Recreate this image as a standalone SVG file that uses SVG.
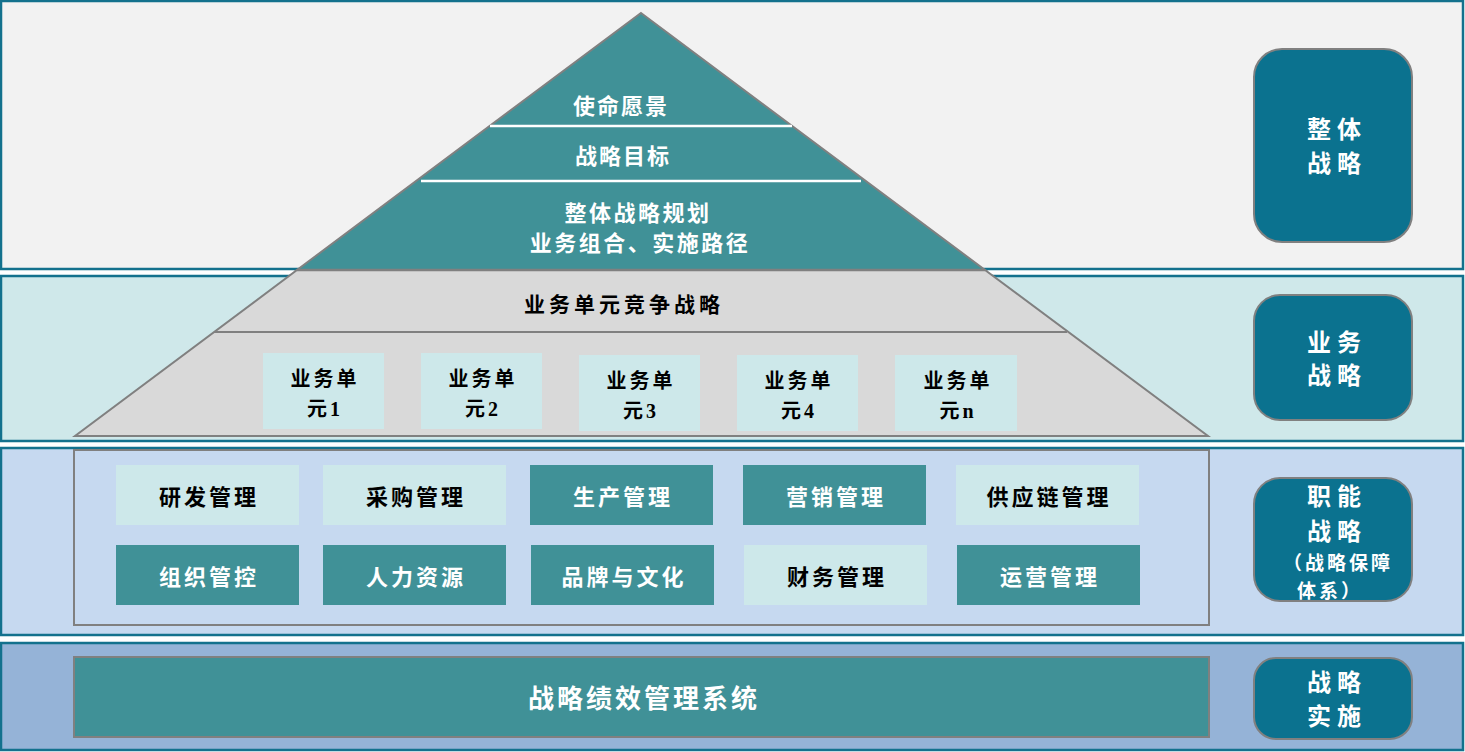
<svg xmlns="http://www.w3.org/2000/svg" width="1465" height="752" viewBox="0 0 1465 752">
<style>
.band{stroke:#13718d;stroke-width:2.5}
.t{font-family:"Liberation Serif","Noto Sans CJK SC",serif;font-weight:bold;text-anchor:middle;dominant-baseline:central}
.w{fill:#ffffff}
.k{fill:#000000}
.lt{fill:#cde8ea}
.tl{fill:#409197}
.rb{fill:#0b728f;stroke:#808080;stroke-width:2}
</style>
<g id="bands">
<rect class="band" x="1" y="1" width="1462" height="268" fill="#f2f2f2"/>
<rect class="band" x="1" y="276" width="1462" height="165" fill="#cfe8ea"/>
<rect class="band" x="1" y="448" width="1462" height="187" fill="#c6d9f0"/>
<rect class="band" x="1" y="643" width="1462" height="107" fill="#95b3d7"/>
</g>
<g id="pyramid">
<polygon points="297,270 985,270 1208,436 75,436" fill="#d9d9d9" stroke="#808080" stroke-width="2"/>
<polygon points="641,13 985,270 297,270" fill="#409197" stroke="#808080" stroke-width="2"/>
<line x1="297" y1="270" x2="985" y2="270" stroke="#808080" stroke-width="2.5"/>
<line x1="490" y1="126" x2="792" y2="126" stroke="#ffffff" stroke-width="2.5"/>
<line x1="421" y1="181" x2="861" y2="181" stroke="#ffffff" stroke-width="2.5"/>
<line x1="214" y1="332" x2="1067" y2="332" stroke="#808080" stroke-width="2"/>
</g>
<g id="pyr-vision"><text class="t w" x="621" y="106" font-size="22" letter-spacing="2">使命愿景</text></g>
<g id="pyr-goal"><text class="t w" x="623" y="156" font-size="22" letter-spacing="2">战略目标</text></g>
<g id="pyr-plan"><text class="t w" font-size="22" letter-spacing="2.5"><tspan x="638" y="213">整体战略规划</tspan><tspan x="640" y="243">业务组合、实施路径</tspan></text></g>
<g id="pyr-bu"><text class="t k" x="624" y="305" font-size="21" letter-spacing="4">业务单元竞争战略</text></g>
<g id="bu1"><rect class="lt" x="263" y="353" width="121" height="76"/><text class="t k" font-size="20" letter-spacing="3"><tspan x="325" y="379">业务单</tspan><tspan x="325" y="409">元1</tspan></text></g>
<g id="bu2"><rect class="lt" x="421" y="353" width="121" height="76"/><text class="t k" font-size="20" letter-spacing="3"><tspan x="483" y="379">业务单</tspan><tspan x="483" y="409">元2</tspan></text></g>
<g id="bu3"><rect class="lt" x="579" y="355" width="121" height="76"/><text class="t k" font-size="20" letter-spacing="3"><tspan x="641" y="381">业务单</tspan><tspan x="641" y="411">元3</tspan></text></g>
<g id="bu4"><rect class="lt" x="737" y="355" width="121" height="76"/><text class="t k" font-size="20" letter-spacing="3"><tspan x="799" y="381">业务单</tspan><tspan x="799" y="411">元4</tspan></text></g>
<g id="bun"><rect class="lt" x="895" y="355" width="122" height="76"/><text class="t k" font-size="20" letter-spacing="3"><tspan x="958" y="381">业务单</tspan><tspan x="958" y="411">元n</tspan></text></g>
<g id="func-frame"><rect x="74" y="450" width="1135" height="175" fill="#c6d9f0" stroke="#808080" stroke-width="2"/></g>
<g id="f1"><rect class="lt" x="116" y="465" width="183" height="60"/><text class="t k" x="209" y="497" font-size="22" letter-spacing="3">研发管理</text></g>
<g id="f2"><rect class="lt" x="323" y="465" width="183" height="60"/><text class="t k" x="416" y="497" font-size="22" letter-spacing="3">采购管理</text></g>
<g id="f3"><rect class="tl" x="530" y="465" width="183" height="60"/><text class="t w" x="623" y="497" font-size="22" letter-spacing="3">生产管理</text></g>
<g id="f4"><rect class="tl" x="743" y="465" width="183" height="60"/><text class="t w" x="836" y="497" font-size="22" letter-spacing="3">营销管理</text></g>
<g id="f5"><rect class="lt" x="956" y="465" width="183" height="60"/><text class="t k" x="1049" y="497" font-size="22" letter-spacing="3">供应链管理</text></g>
<g id="f6"><rect class="tl" x="116" y="545" width="183" height="60"/><text class="t w" x="209" y="577" font-size="22" letter-spacing="3">组织管控</text></g>
<g id="f7"><rect class="tl" x="323" y="545" width="183" height="60"/><text class="t w" x="416" y="577" font-size="22" letter-spacing="3">人力资源</text></g>
<g id="f8"><rect class="tl" x="531" y="545" width="183" height="60"/><text class="t w" x="624" y="577" font-size="22" letter-spacing="3">品牌与文化</text></g>
<g id="f9"><rect class="lt" x="744" y="545" width="183" height="60"/><text class="t k" x="837" y="577" font-size="22" letter-spacing="3">财务管理</text></g>
<g id="f10"><rect class="tl" x="957" y="545" width="183" height="60"/><text class="t w" x="1050" y="577" font-size="22" letter-spacing="3">运营管理</text></g>
<g id="perf"><rect class="tl" x="74" y="657" width="1135" height="80" stroke="#808080" stroke-width="2"/><text class="t w" x="644" y="699" font-size="26" letter-spacing="3">战略绩效管理系统</text></g>
<g id="r1"><rect class="rb" x="1254" y="49" width="158" height="193" rx="28"/><text class="t w" font-size="24" letter-spacing="6"><tspan x="1337" y="130">整体</tspan><tspan x="1337" y="164">战略</tspan></text></g>
<g id="r2"><rect class="rb" x="1254" y="295" width="158" height="125" rx="26"/><text class="t w" font-size="24" letter-spacing="6"><tspan x="1337" y="343">业务</tspan><tspan x="1337" y="376">战略</tspan></text></g>
<g id="r3"><rect class="rb" x="1254" y="478" width="158" height="123" rx="26"/><text class="t w" letter-spacing="6"><tspan x="1337" y="497" font-size="24">职能</tspan><tspan x="1337" y="532" font-size="24">战略</tspan><tspan x="1338" y="563" font-size="19" letter-spacing="3">（战略保障</tspan><tspan x="1330" y="591" font-size="19" letter-spacing="3">体系）</tspan></text></g>
<g id="r4"><rect class="rb" x="1254" y="658" width="158" height="81" rx="22"/><text class="t w" font-size="24" letter-spacing="6"><tspan x="1337" y="683">战略</tspan><tspan x="1337" y="717">实施</tspan></text></g>
</svg>
